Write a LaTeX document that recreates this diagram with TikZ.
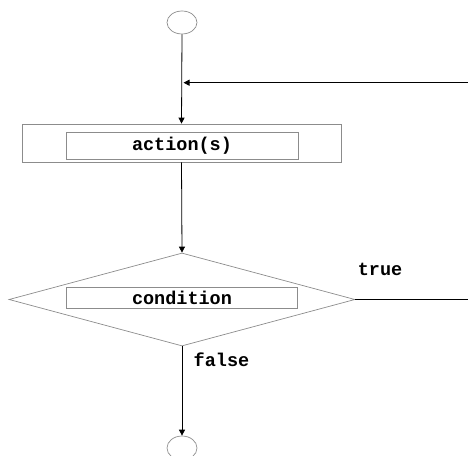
\documentclass[tikz,border=0pt]{standalone}
\usepackage{fontspec}
\setmonofont{Liberation Mono}
\usetikzlibrary{shapes.geometric,arrows.meta}
\begin{document}
\begin{tikzpicture}[x=1pt,y=1pt,
  shapeline/.style={draw=black!45,line width=0.7pt},
  conn/.style={draw=black,line width=0.8pt},
  arr/.style={conn,-{Triangle[length=6pt,width=6pt]}},
  lbl/.style={font=\ttfamily\bfseries\fontsize{18.5}{20}\selectfont,inner sep=0pt},
]
\useasboundingbox (0,0) rectangle (468,455);
\node[shapeline,ellipse,minimum width=30pt,minimum height=23pt,inner sep=0pt] (start) at (182,432.5) {};
\node[shapeline,rectangle,minimum width=319pt,minimum height=38pt,inner sep=0pt] (action) at (181.5,312) {};
\node[shapeline,rectangle,minimum width=232pt,minimum height=27pt,inner sep=0pt,lbl] (actiontxt) at (182,309.5) {action(s)};
\node[shapeline,diamond,minimum width=346pt,minimum height=93pt,inner sep=0pt] (cond) at (182,155.5) {};
\node[shapeline,rectangle,minimum width=231pt,minimum height=21pt,inner sep=0pt,lbl] (condtxt) at (182,157.6) {condition};
\node[shapeline,ellipse,minimum width=30pt,minimum height=24pt,inner sep=0pt] (stop) at (182,7) {};
\node[lbl] (truelbl) at (380,186) {true};
\node[lbl] (falselbl) at (221.5,95) {false};
\coordinate (loopin) at (468,372.3);
\coordinate (join) at (183.5,372.3);
\coordinate (trueend) at (468,155.5);
\draw[arr] (start.south) -- (action.north);
\draw[arr] (loopin) -- (join);
\draw[arr] (action.south) -- (cond.north);
\draw[conn] (cond.east) -- (trueend);
\draw[arr] (cond.south) -- (stop.north);
\end{tikzpicture}
\end{document}
